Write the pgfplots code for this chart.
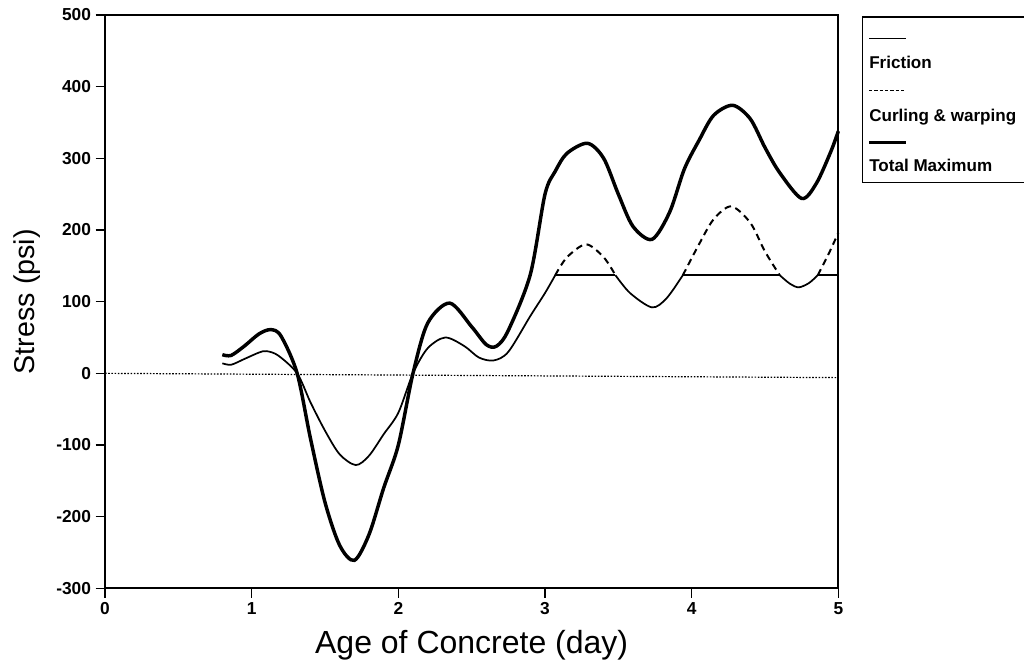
\documentclass[border=0pt]{standalone}
\usepackage{fontspec}
\setmainfont{Liberation Sans}
\usepackage{pgfplots}
\pgfplotsset{compat=1.18}

\begin{document}
\begin{tikzpicture}
\begin{axis}[
    scale only axis,
    width=550pt, height=430pt,
    xmin=0, xmax=5, ymin=-300, ymax=500,
    xtick={0,1,2,3,4,5},
    ytick={-300,-200,-100,0,100,200,300,400,500},
    tick align=outside, xtick pos=bottom, ytick pos=left,
    major tick length=7pt,
    tick style={line width=1.1pt, black},
    axis line style={line width=1.4pt},
    /pgf/number format/assume math mode=true,
    ticklabel style={font=\fontsize{13}{15}\selectfont\bfseries},
    xlabel={Age of Concrete (day)},
    ylabel={Stress (psi)},
    xlabel style={font=\fontsize{24}{27}\selectfont, yshift=-5pt},
    ylabel style={font=\fontsize{21.5}{24}\selectfont, yshift=5pt},
    clip=false,
]
% zero line
\addplot[black, line width=0.9pt, dash pattern=on 1.2pt off 1.2pt] coordinates {(0,0) (5,-6)};

% Total Maximum
\addplot[black, line width=2.6pt, smooth] coordinates {
 (0.80,26) (0.86,25) (0.95,38) (1.05,55) (1.13,61) (1.20,52) (1.31,0)
 (1.40,-90) (1.50,-180) (1.60,-240) (1.70,-261) (1.80,-225) (1.90,-160)
 (2.00,-100) (2.10,0) (2.20,70) (2.35,98) (2.50,65) (2.60,40) (2.67,38)
 (2.75,60) (2.90,138) (3.00,250) (3.07,282) (3.15,307) (3.29,321)
 (3.40,300) (3.50,250) (3.60,205) (3.73,187) (3.85,225) (3.95,285)
 (4.05,325) (4.15,360) (4.28,374) (4.40,355) (4.50,315) (4.60,280)
 (4.75,244) (4.85,265) (4.95,310) (5.00,338)
};

% Friction (thin)
\addplot[black, line width=1.3pt, smooth] coordinates {
 (0.80,14) (0.86,12) (0.95,20) (1.05,29) (1.10,31) (1.18,25) (1.31,0)
 (1.40,-40) (1.50,-80) (1.60,-113) (1.71,-128) (1.80,-115) (1.90,-85)
 (2.00,-55) (2.10,0) (2.20,35) (2.32,50) (2.45,38) (2.55,22) (2.65,18)
 (2.75,30) (2.90,80) (3.00,112) (3.07,137)
};
\addplot[black, line width=1.3pt] coordinates {(3.07,137) (3.48,137)};
\addplot[black, line width=1.3pt, smooth] coordinates {
 (3.48,137) (3.58,112) (3.73,92) (3.83,105) (3.94,137)
};
\addplot[black, line width=1.3pt] coordinates {(3.94,137) (4.60,137)};
\addplot[black, line width=1.3pt, smooth] coordinates {
 (4.60,137) (4.67,125) (4.73,120) (4.80,126) (4.86,137)
};
\addplot[black, line width=1.3pt] coordinates {(4.86,137) (5.00,137)};

% Curling & warping (dashed)
\addplot[black, line width=1.5pt, dash pattern=on 5pt off 3.5pt, smooth] coordinates {
 (3.07,137) (3.15,162) (3.28,180) (3.40,162) (3.48,137)
};
\addplot[black, line width=1.5pt, dash pattern=on 5pt off 3.5pt, smooth] coordinates {
 (3.94,137) (4.05,180) (4.15,215) (4.27,233) (4.40,210) (4.50,170) (4.60,137)
};
\addplot[black, line width=1.5pt, dash pattern=on 5pt off 3.5pt, smooth] coordinates {
 (4.86,137) (4.93,165) (5.00,196)
};

\coordinate (SW) at (rel axis cs:0,0);
\coordinate (NE) at (rel axis cs:1,1);
\end{axis}

% legend
\coordinate (L) at ([shift={(18pt,-1.5pt)}]NE);
\draw[line width=1.1pt] ([xshift=121pt]L) -- (L) -- ([yshift=-124pt]L) -- ([shift={(121pt,-124pt)}]L);
\draw[line width=1pt] ([shift={(5pt,-16pt)}]L) -- ([shift={(33pt,-16pt)}]L);
\node[anchor=west, inner sep=0pt, font=\fontsize{12.8}{15}\selectfont\bfseries] at ([shift={(5pt,-34pt)}]L) {Friction};
\draw[line width=1.1pt, dash pattern=on 2.5pt off 1.5pt] ([shift={(5pt,-55pt)}]L) -- ([shift={(33pt,-55pt)}]L);
\node[anchor=west, inner sep=0pt, font=\fontsize{12.8}{15}\selectfont\bfseries] at ([shift={(5pt,-75pt)}]L) {Curling \& warping};
\draw[line width=2pt] ([shift={(5pt,-94pt)}]L) -- ([shift={(33pt,-94pt)}]L);
\node[anchor=west, inner sep=0pt, font=\fontsize{12.8}{15}\selectfont\bfseries] at ([shift={(5pt,-111pt)}]L) {Total Maximum};

\pgfresetboundingbox
\path[use as bounding box] ([shift={(-78.75pt,-58.5pt)}]SW) rectangle ([shift={(139.25pt,11.25pt)}]NE);
\end{tikzpicture}
\end{document}
